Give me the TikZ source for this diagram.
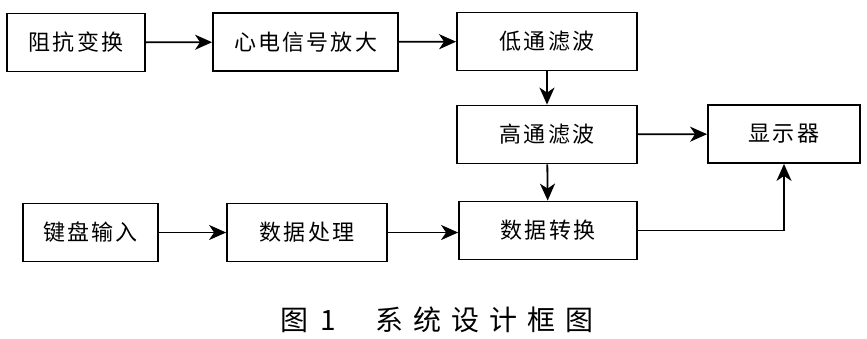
\documentclass[tikz,border=0pt]{standalone}
\usepackage{fontspec}
\newfontfamily\cjk[LetterSpace=10]{Noto Sans CJK SC}
\newfontfamily\cjkcap[LetterSpace=36]{Noto Sans CJK SC}
\usetikzlibrary{arrows.meta}
\begin{document}
\begin{tikzpicture}[x=1pt,y=-1pt,
  blk/.style={draw,line width=1.8pt,minimum height=58pt,inner sep=0pt,font=\cjk\fontsize{22}{26}\selectfont},
  arr/.style={line width=1.8pt,-{Stealth[length=17pt,width=15pt,inset=5pt]}}]
\useasboundingbox[fill=white] (0,0) rectangle (867,338);
\node[blk,minimum width=138pt] (b1) at (76,42.5) {阻抗变换};
\node[blk,minimum width=185pt] (b2) at (305.5,42) {心电信号放大};
\node[blk,minimum width=180pt] (b3) at (547,41.5) {低通滤波};
\node[blk,minimum width=180pt] (b4) at (547,134.5) {高通滤波};
\node[blk,minimum width=152pt] (b5) at (784,134) {显示器};
\node[blk,minimum width=135pt] (b6) at (90.5,232.5) {键盘输入};
\node[blk,minimum width=160pt] (b7) at (307,232.5) {数据处理};
\node[blk,minimum width=178pt] (b8) at (548,230.5) {数据转换};
\node[font=\cjkcap\fontsize{28}{32}\selectfont] (cap) at (437,320) {图\hspace{12pt}1\hspace{40pt}系统设计框图};
\draw[arr] (b1) -- (b2);
\draw[arr] (b2) -- (b3);
\draw[arr] (b3) -- (b4);
\draw[arr] (b4) -- (b5);
\draw[arr] (b4) -- (b8);
\draw[arr] (b6) -- (b7);
\draw[arr] (b7.east) -- (b7.east -| b8.west);
\draw[arr] (b8.east) -| (b5.south);
\end{tikzpicture}
\end{document}
